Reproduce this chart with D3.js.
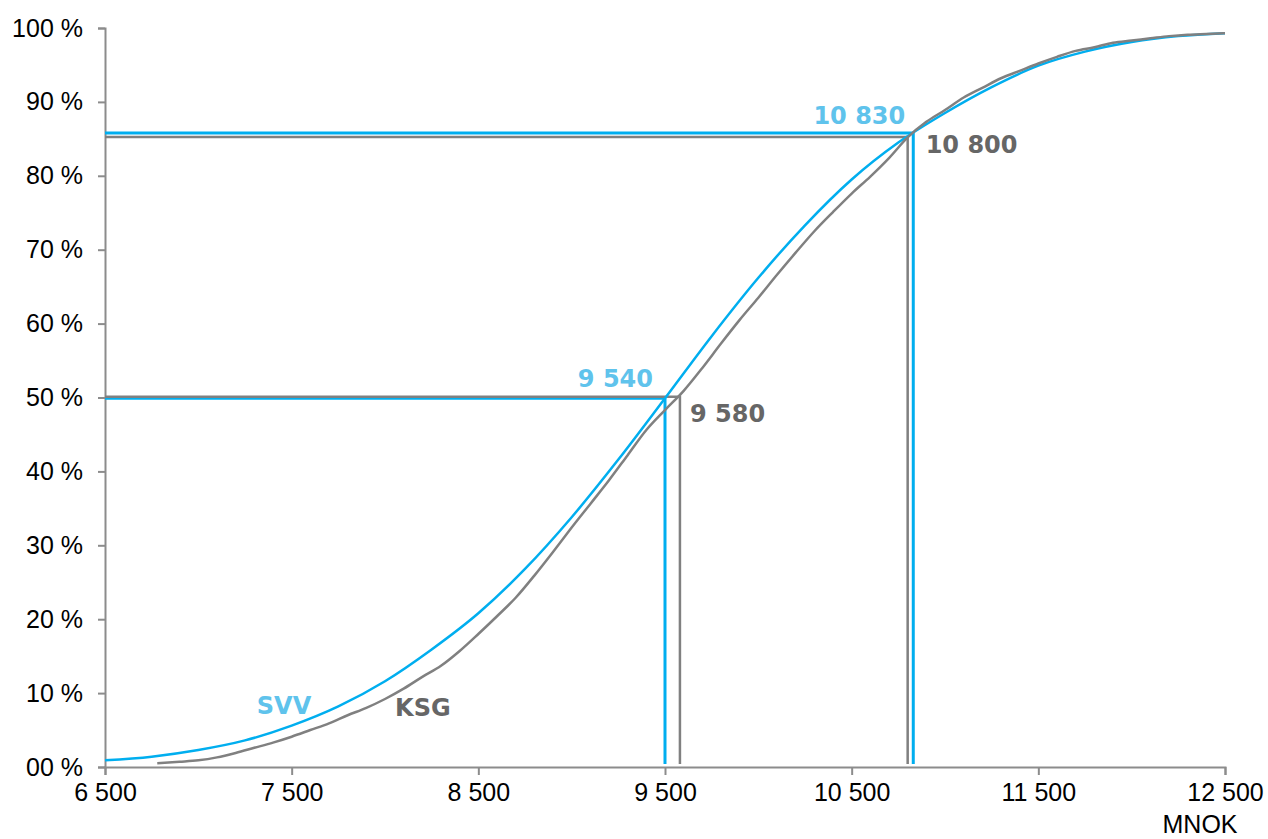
<!DOCTYPE html>
<html>
<head>
<meta charset="utf-8">
<script src="https://cdn.jsdelivr.net/npm/d3@7"></script>
<style>
  html, body { margin: 0; padding: 0; background: #fff; }
  svg { display: block; }
</style>
</head>
<body>
<svg id="chart" width="1268" height="839"></svg>
<script>
// ---- Data ----
const xTicks = [6500, 7500, 8500, 9500, 10500, 11500, 12500];
const xTickLabels = ["6 500", "7 500", "8 500", "9 500", "10 500", "11 500", "12 500"];
const yTicks = [0, 10, 20, 30, 40, 50, 60, 70, 80, 90, 100];
const yTickLabels = ["00 %", "10 %", "20 %", "30 %", "40 %", "50 %", "60 %", "70 %", "80 %", "90 %", "100 %"];
const xUnit = "MNOK";

// SVV cumulative distribution (MNOK, %)
const svvX = [6500, 6750, 7000, 7250, 7500, 7750, 8000, 8250, 8500, 8750, 9000, 9250, 9500,
  9750, 10000, 10250, 10500, 10750, 11000, 11250, 11500, 11750, 12000, 12250, 12500];
const svvY = [0.9, 1.4, 2.3, 3.6, 5.6, 8.2, 11.6, 15.9, 20.8, 26.8, 33.8, 41.6, 49.9,
  58.3, 66.2, 73.3, 79.5, 84.5, 88.5, 92.0, 94.9, 96.8, 98.1, 98.9, 99.3];

// KSG cumulative distribution (MNOK, %)
const ksgX = [6780, 6900, 7000, 7100, 7200, 7300, 7400, 7500, 7600, 7700, 7800, 7900, 8000,
  8100, 8200, 8300, 8400, 8500, 8600, 8700, 8800, 8900, 9000, 9100, 9200, 9300, 9400, 9500,
  9600, 9700, 9800, 9900, 10000, 10100, 10200, 10300, 10400, 10500, 10600, 10700, 10800,
  10900, 11000, 11100, 11200, 11300, 11400, 11500, 11600, 11700, 11800, 11900, 12000,
  12100, 12200, 12300, 12400, 12500];
const ksgY = [0.5, 0.7, 0.9, 1.3, 1.9, 2.6, 3.3, 4.1, 5.0, 5.9, 7.0, 8.0, 9.2,
  10.6, 12.2, 13.7, 15.7, 18.0, 20.4, 22.9, 25.9, 29.1, 32.4, 35.6, 38.8, 42.2, 45.6, 48.3,
  50.9, 54.0, 57.3, 60.5, 63.5, 66.6, 69.6, 72.5, 75.1, 77.6, 79.9, 82.4, 85.2,
  87.3, 88.9, 90.6, 91.9, 93.2, 94.2, 95.2, 96.1, 96.9, 97.4, 98.0, 98.3,
  98.6, 98.9, 99.1, 99.2, 99.3];

// Reference markers (percentile lines)
const refSeries = ["SVV", "KSG", "SVV", "KSG"];
const refPct = [85.8, 85.25, 49.9, 50.1];
const refLineX = [10830, 10800, 9500, 9580];
const refLabels = ["10 830", "10 800", "9 540", "9 580"];

const seriesNames = ["SVV", "KSG"];

// ---- Layout ----
const svg = d3.select("#chart");
const mLeft = 105, mRight = 1225, mTop = 28, mBottom = 767;
const x = d3.scaleLinear().domain([6500, 12500]).range([mLeft, mRight]);
const y = d3.scaleLinear().domain([0, 100]).range([mBottom, mTop]);

const lineColor = { SVV: "#00AEEF", KSG: "#808080" };
const labelColor = { SVV: "#5FC3EC", KSG: "#666666" };
const axisColor = "#8C8C8C";
const tickFont = "Liberation Sans, Arial, sans-serif";

// ---- Axes ----
const yAxis = d3.axisLeft(y).tickValues(yTicks)
  .tickFormat((d, i) => yTickLabels[i]).tickSizeOuter(0).tickSize(7).tickPadding(15);
const gy = svg.append("g").attr("transform", `translate(${mLeft},0)`).call(yAxis);

const xAxis = d3.axisBottom(x).tickValues(xTicks)
  .tickFormat((d, i) => xTickLabels[i]).tickSizeOuter(0).tickSize(8).tickPadding(8);
const gx = svg.append("g").attr("transform", `translate(0,${mBottom})`).call(xAxis);

[gx, gy].forEach(g => {
  g.select(".domain").attr("stroke", axisColor).attr("stroke-width", 2);
  g.selectAll(".tick line").attr("stroke", axisColor).attr("stroke-width", 2);
  g.selectAll(".tick text").attr("fill", "#000")
    .style("font-family", tickFont).style("font-size", "25px");
});

svg.append("text").attr("x", x(12500) - 25).attr("y", 833)
  .attr("text-anchor", "middle").attr("fill", "#000")
  .style("font-family", tickFont).style("font-size", "25px")
  .text(xUnit);

// ---- Reference lines ----
const refs = refSeries.map((s, i) => ({ s, p: refPct[i], vx: refLineX[i], label: refLabels[i] }));
const drawOrder = [0, 2, 1, 3];
drawOrder.forEach(i => {
  const r = refs[i];
  const w = r.s === "SVV" ? 3 : 2.5;
  svg.append("path")
    .attr("d", d3.line()([[x(6500), y(r.p)], [x(r.vx), y(r.p)], [x(r.vx), y(0.4)]]))
    .attr("fill", "none").attr("stroke", lineColor[r.s]).attr("stroke-width", w);
});

// ---- Curves ----
const svvData = svvX.map((v, i) => [v, svvY[i]]);
const ksgData = ksgX.map((v, i) => [v, ksgY[i]]);

svg.append("path").datum(svvData)
  .attr("d", d3.line().x(d => x(d[0])).y(d => y(d[1])).curve(d3.curveMonotoneX))
  .attr("fill", "none").attr("stroke", lineColor.SVV).attr("stroke-width", 2.5);

svg.append("path").datum(ksgData)
  .attr("d", d3.line().x(d => x(d[0])).y(d => y(d[1])).curve(d3.curveMonotoneX))
  .attr("fill", "none").attr("stroke", lineColor.KSG).attr("stroke-width", 2.5)
  .attr("stroke-linejoin", "round");

// ---- Labels ----
const labelFont = "DejaVu Sans, Verdana, sans-serif";
function lbl(xv, yv, txt, s, anchor, dx, dy) {
  svg.append("text").attr("x", x(xv) + dx).attr("y", y(yv) + dy)
    .attr("text-anchor", anchor).attr("fill", labelColor[s])
    .style("font-family", labelFont).style("font-weight", "bold").style("font-size", "24px")
    .text(txt);
}
// value labels
lbl(refLineX[0], refPct[0], refLabels[0], "SVV", "end", -8, -9);
lbl(refLineX[1], refPct[1], refLabels[1], "KSG", "start", 18, 16);
lbl(refLineX[2], refPct[2], refLabels[2], "SVV", "end", -12, -11);
lbl(refLineX[3], refPct[3], refLabels[3], "KSG", "start", 10, 25);
// series name labels
lbl(7459, 7.2, seriesNames[0], "SVV", "middle", 0, 0);
lbl(8203, 6.9, seriesNames[1], "KSG", "middle", 0, 0);
</script>
</body>
</html>
